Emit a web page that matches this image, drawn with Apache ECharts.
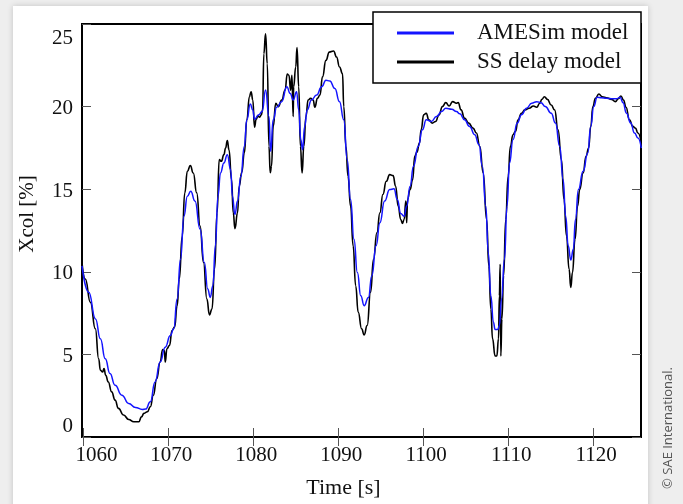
<!DOCTYPE html>
<html>
<head>
<meta charset="utf-8">
<script src="https://cdn.jsdelivr.net/npm/echarts@6/dist/echarts.min.js"></script>
<style>
  html, body { margin: 0; padding: 0; width: 683px; height: 504px; overflow: hidden; background: #eeeeee; }
  #card { position: absolute; left: 13px; top: 6px; width: 635px; height: 520px; background: #ffffff; box-shadow: 0 0 6px rgba(0,0,0,0.18); }
  #chart { position: absolute; left: 0; top: 0; width: 683px; height: 504px; }
</style>
</head>
<body>
<div id="card"></div>
<div id="chart"></div>
<script>
// ---- data ----
const xTicks = [1060, 1070, 1080, 1090, 1100, 1110, 1120];
const yTicks = [0, 5, 10, 15, 20, 25];

const tBlack = [1059.81,1060.2,1060.8,1061.38,1061.77,1061.97,1062.24,1062.4,1062.6,1062.9,1063.3,1063.7,1064.1,1064.7,1065.3,1065.9,1066.5,1066.8,1067.1,1067.5,1067.85,1068.2,1068.6,1069.0,1069.3,1069.5,1069.6,1069.8,1070.1,1070.4,1070.7,1071.0,1071.25,1071.6,1071.9,1072.2,1072.55,1072.9,1073.3,1073.7,1074.1,1074.5,1074.8,1075.1,1075.4,1075.7,1075.95,1076.2,1076.5,1076.7,1076.9,1077.1,1077.4,1077.6,1077.8,1078.1,1078.3,1078.6,1078.9,1079.2,1079.5,1079.7,1079.9,1080.1,1080.3,1080.5,1080.7,1080.9,1081.05,1081.2,1081.4,1081.6,1081.8,1081.95,1082.1,1082.3,1082.6,1082.9,1083.3,1083.7,1083.95,1084.15,1084.35,1084.5,1084.65,1084.7,1084.95,1085.1,1085.3,1085.5,1085.7,1085.9,1086.15,1086.4,1086.7,1087.0,1087.2,1087.5,1087.8,1088.1,1088.5,1088.9,1089.4,1089.75,1090.1,1090.45,1090.6,1090.85,1091.1,1091.4,1091.7,1092.0,1092.3,1092.7,1093.0,1093.35,1093.75,1094.1,1094.5,1094.85,1095.2,1095.6,1096.0,1096.4,1096.7,1097.0,1097.3,1097.5,1097.7,1097.9,1098.0,1098.1,1098.4,1098.7,1098.95,1099.2,1099.5,1099.7,1100.0,1100.3,1100.6,1101.0,1101.4,1101.8,1102.2,1102.6,1103.0,1103.4,1103.85,1104.05,1104.4,1104.8,1105.3,1105.8,1106.2,1106.6,1107.0,1107.4,1107.66,1107.9,1108.1,1108.4,1108.6,1108.8,1108.9,1109.0,1109.07,1109.2,1109.4,1109.65,1109.93,1110.2,1110.5,1110.8,1111.1,1111.5,1111.9,1112.4,1112.9,1113.3,1113.65,1113.9,1114.2,1114.55,1115.0,1115.4,1115.8,1116.2,1116.5,1116.8,1117.1,1117.3,1117.5,1117.8,1118.1,1118.35,1118.75,1119.1,1119.4,1119.65,1119.9,1120.2,1120.6,1121.0,1121.5,1122.1,1122.55,1122.9,1123.2,1123.5,1123.8,1124.2,1124.6,1124.9,1125.2,1125.6];
const vBlack = [10.56,9.56,8.15,6.55,4.74,4.04,3.94,4.14,3.73,3.33,2.73,2.23,1.73,1.33,1.06,0.92,0.92,1.22,1.43,1.53,1.83,2.53,3.53,4.54,5.3,5.24,4.54,5.34,5.54,6.45,6.65,7.95,9.56,12.17,14.78,16.08,16.43,15.98,14.78,12.77,10.56,8.35,7.39,7.75,10.16,13.57,16.79,16.69,17.09,17.49,17.95,17.39,15.58,13.57,12.61,13.57,15.18,16.02,17.19,19.2,20.6,20.9,20.4,18.76,19.24,19.44,19.36,19.5,19.8,23.2,24.4,22.6,17.6,16.0,16.39,18.8,20.2,20.0,20.4,21.0,21.97,21.9,21.0,21.9,19.4,21.2,22.4,23.57,21.2,17.6,15.98,17.6,19.4,20.4,20.5,20.4,19.96,20.5,20.7,21.8,22.8,23.3,23.37,23.0,22.4,22.0,20.0,17.6,15.78,13.98,11.57,9.16,7.55,6.55,6.18,6.75,8.76,10.76,12.37,13.57,14.68,15.48,15.88,15.82,15.18,13.98,13.17,12.93,13.17,14.28,12.97,14.38,14.98,15.58,17.0,17.23,17.8,18.6,19.5,19.6,19.2,19.0,19.1,19.5,20.0,20.24,20.04,20.3,20.2,20.24,19.8,19.3,19.0,18.7,18.4,17.59,15.98,13.17,10.36,7.75,5.94,4.9,4.9,5.94,8.55,10.46,4.9,7.15,9.76,13.17,15.78,17.59,18.3,18.5,19.2,19.6,19.8,19.9,20.04,19.96,20.2,20.44,20.6,20.44,20.1,19.8,18.6,16.79,14.38,12.17,10.16,9.06,9.96,11.97,13.98,14.98,15.98,16.99,17.49,18.8,20.0,20.5,20.76,20.6,20.54,20.44,20.3,20.48,20.64,20.4,19.96,19.2,18.8,18.7,18.4,17.8];

const tBlue = [1059.81,1060.6,1061.4,1061.97,1062.55,1063.1,1063.7,1064.5,1065.3,1066.1,1066.9,1067.3,1067.85,1068.4,1069.0,1069.6,1070.2,1070.6,1071.0,1071.4,1071.8,1072.2,1072.6,1073.1,1073.7,1074.2,1074.6,1074.9,1075.2,1075.5,1075.8,1076.1,1076.5,1076.9,1077.3,1077.5,1077.8,1078.1,1078.5,1078.9,1079.2,1079.6,1079.9,1080.1,1080.6,1081.0,1081.4,1081.8,1082.0,1082.3,1082.7,1083.3,1083.9,1084.3,1084.65,1085.05,1085.3,1085.55,1085.75,1086.0,1086.3,1086.8,1087.4,1088.0,1088.5,1088.96,1089.55,1090.1,1090.6,1091.0,1091.4,1091.8,1092.2,1092.6,1093.0,1093.5,1093.9,1094.4,1094.85,1095.4,1096.0,1096.5,1096.9,1097.3,1097.7,1098.0,1098.4,1098.8,1099.35,1099.85,1100.3,1100.9,1101.5,1102.1,1102.6,1103.3,1103.85,1104.25,1104.8,1105.4,1106.0,1106.5,1106.9,1107.3,1107.6,1107.9,1108.2,1108.4,1108.7,1108.9,1109.15,1109.5,1109.8,1110.1,1110.5,1111.0,1111.5,1112.1,1112.7,1113.3,1113.8,1114.3,1115.0,1115.5,1116.0,1116.4,1116.7,1117.0,1117.3,1117.6,1117.85,1118.2,1118.75,1119.3,1119.65,1120.0,1120.4,1120.9,1121.5,1122.1,1122.7,1123.1,1123.45,1123.85,1124.35,1124.8,1125.2,1125.6];
const vBlue = [10.36,8.76,7.15,5.94,4.74,3.84,3.13,2.53,2.03,1.79,1.67,1.69,2.13,3.33,4.54,5.44,6.14,6.55,8.35,10.76,13.37,14.58,14.88,14.28,12.57,10.56,8.96,8.45,9.16,11.57,14.58,15.98,16.59,17.09,16.18,14.58,13.47,14.28,15.78,17.59,19.2,20.15,19.8,19.24,19.5,19.7,21.0,19.4,17.3,19.2,19.96,20.3,21.2,20.8,20.4,20.9,19.8,18.0,17.39,18.8,19.8,20.4,20.7,21.2,21.6,21.55,21.1,20.3,19.2,16.8,14.38,11.97,9.96,8.55,7.95,8.45,9.76,11.57,12.97,14.28,14.98,15.02,14.38,13.53,13.37,13.98,15.18,16.39,17.59,18.6,19.2,19.1,19.4,19.7,19.9,19.84,19.7,19.56,19.2,18.8,18.3,17.7,16.39,13.98,11.16,8.55,6.95,6.5,6.5,6.75,8.35,10.76,13.98,16.59,18.0,19.0,19.5,19.9,20.2,20.3,20.24,20.0,19.6,19.0,17.59,15.58,13.37,11.57,10.72,11.37,13.17,14.98,16.08,17.19,18.8,20.0,20.56,20.54,20.5,20.48,20.48,20.56,20.24,19.6,19.0,18.4,18.1,17.49];

const seriesNames = ['AMESim model', 'SS delay model'];
const xMin = 1059.81, xMax = 1125.56;

// ---- chart ----
const zip = (a, b) => a.map((t, i) => [t, b[i]]);
const serif = 'Liberation Serif';
const chart = echarts.init(document.getElementById('chart'), null, { renderer: 'canvas' });

const xLabelRich = {
  l: { fontFamily: serif, fontSize: 21, color: '#111', padding: [0, 0, 0, 26] },
  n: { fontFamily: serif, fontSize: 21, color: '#111', padding: [0, 0, 0, 5] }
};
const yLabelRich = {
  b: { fontFamily: serif, fontSize: 21, color: '#111', padding: [0, 0, 21, 0] },
  t: { fontFamily: serif, fontSize: 21, color: '#111', padding: [28, 0, 0, 0] },
  n: { fontFamily: serif, fontSize: 21, color: '#111', padding: [4, 0, 0, 0] }
};
const tickStyle = { show: true, inside: true, length: 9, lineStyle: { color: '#555', width: 1 } };

chart.setOption({
  animation: false,
  backgroundColor: 'transparent',
  grid: { left: 82, right: 42, top: 24, bottom: 64.5, show: true, borderColor: '#000', borderWidth: 2, backgroundColor: '#fff' },
  xAxis: [
    {
      type: 'value', min: xMin, max: xMax, position: 'bottom',
      axisLine: { show: true, lineStyle: { color: '#000', width: 2 } },
      axisTick: Object.assign({ customValues: xTicks }, tickStyle),
      axisLabel: {
        customValues: xTicks, margin: 8, fontFamily: serif, fontSize: 21, color: '#111',
        formatter: v => (v === 1060 ? '{l|' + v + '}' : '{n|' + v + '}'), rich: xLabelRich
      },
      splitLine: { show: false },
      name: 'Time [s]', nameLocation: 'middle', nameGap: 40,
      nameTextStyle: { fontFamily: serif, fontSize: 22, color: '#111', padding: [0, 36, 0, 0] }
    },
    {
      type: 'value', min: xMin, max: xMax, position: 'top',
      axisLine: { show: false },
      axisTick: Object.assign({ customValues: xTicks }, tickStyle),
      axisLabel: { show: false, customValues: xTicks },
      splitLine: { show: false }
    }
  ],
  yAxis: [
    {
      type: 'value', min: 0, max: 25, interval: 5, position: 'left',
      axisLine: { show: true, lineStyle: { color: '#000', width: 2 } },
      axisTick: tickStyle,
      axisLabel: {
        margin: 9, fontFamily: serif, fontSize: 21, color: '#111',
        formatter: v => (v === 0 ? '{b|0}' : v === 25 ? '{t|25}' : '{n|' + v + '}'), rich: yLabelRich
      },
      splitLine: { show: false },
      name: 'Xcol [%]', nameLocation: 'middle', nameRotate: 90, nameGap: 44,
      nameTextStyle: { fontFamily: serif, fontSize: 21, color: '#111', padding: [0, 0, 0, 33] }
    },
    {
      type: 'value', min: 0, max: 25, interval: 5, position: 'right',
      axisLine: { show: false }, axisTick: tickStyle, axisLabel: { show: false }, splitLine: { show: false }
    }
  ],
  legend: {
    orient: 'vertical', left: 397, top: 20, padding: 0, itemGap: 3,
    itemWidth: 57, itemHeight: 3, z: 20, icon: 'rect',
    data: seriesNames,
    textStyle: { fontFamily: serif, fontSize: 23, lineHeight: 26, color: '#111', padding: [0, 0, 0, 18] }
  },
  graphic: [
    { type: 'rect', z: 10, shape: { x: 373, y: 12, width: 268, height: 71 },
      style: { fill: '#fff', stroke: '#000', lineWidth: 1.5 } },
    { type: 'text', x: 668, y: 428, rotation: Math.PI / 2, z: 10,
      style: { text: '\u00A9 SAE International.', fill: '#555', font: '13px "Open Sans"', align: 'center', verticalAlign: 'middle' } }
  ],
  series: [
    {
      name: seriesNames[0], type: 'line', data: zip(tBlue, vBlue), showSymbol: false, symbol: 'none',
      smooth: 0.5, smoothMonotone: 'x', lineStyle: { color: '#1414ff', width: 1.5 }, itemStyle: { color: '#1414ff' }, z: 3
    },
    {
      name: seriesNames[1], type: 'line', data: zip(tBlack, vBlack), showSymbol: false, symbol: 'none',
      smooth: 0.5, smoothMonotone: 'x', lineStyle: { color: '#000', width: 1.6 }, itemStyle: { color: '#000' }, z: 2
    }
  ]
});
</script>
</body>
</html>
